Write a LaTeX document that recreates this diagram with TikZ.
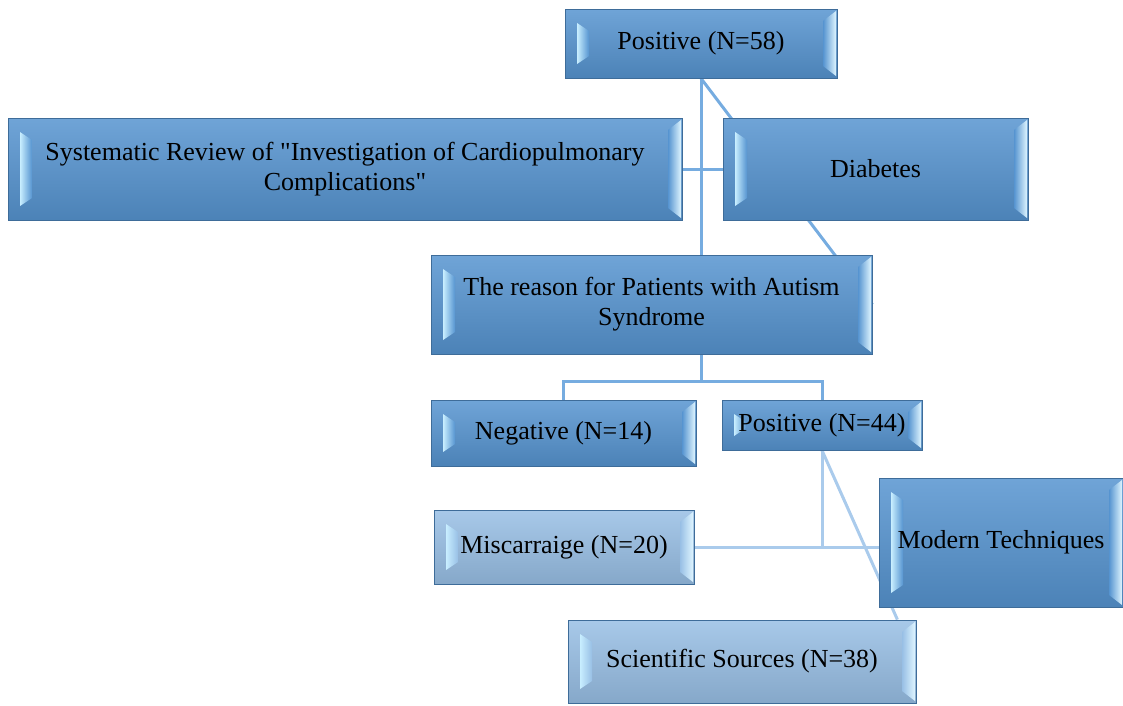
\documentclass[tikz,border=0pt]{standalone}
\usepackage{fontspec}
\setmainfont{Liberation Serif}[Ligatures=TeXOff]
\usetikzlibrary{backgrounds}

\definecolor{boxblue}{RGB}{86,148,208}
\definecolor{boxpale}{RGB}{152,191,229}
\definecolor{boxedge}{RGB}{62,108,153}
\definecolor{bevlight}{RGB}{200,238,255}
\definecolor{linkblue}{RGB}{118,172,224}
\definecolor{linkpale}{RGB}{170,203,236}

\tikzset{
  bevel/.style={path picture={
    \coordinate (bsw) at (path picture bounding box.south west);
    \coordinate (bnw) at (path picture bounding box.north west);
    \coordinate (bne) at (path picture bounding box.north east);
    \coordinate (bse) at (path picture bounding box.south east);
    \shade[left color=bevlight, right color=#1]
      ([xshift=12pt,yshift=14pt]bsw) -- ([xshift=12pt,yshift=-14pt]bnw)
      -- ([xshift=24pt,yshift=-22pt]bnw) -- ([xshift=24pt,yshift=22pt]bsw) -- cycle;
    \shade[left color=#1, right color=bevlight!60!white]
      ([xshift=-14pt,yshift=12pt]bse) -- ([xshift=-14pt,yshift=-12pt]bne)
      -- ([xshift=-1pt,yshift=-2pt]bne) -- ([xshift=-1pt,yshift=2pt]bse) -- cycle;
  }},
  box/.style={draw=boxedge, line width=0.8pt, inner sep=0pt, align=center,
    top color=#1!85!white, bottom color=#1!88!black, bevel=#1},
  link/.style={draw=linkblue, line width=3pt},
  linkpale/.style={draw=linkpale, line width=3pt}
}

\begin{document}
\begin{tikzpicture}[x=1pt,y=-1pt,font=\fontsize{26}{30}\selectfont]
	\useasboundingbox (0,0) rectangle (1123,705);
	\node[box=boxblue, minimum width=272pt, minimum height=69pt] (pos58) at (701,43.5) {Positive (N=58)};
	\node[box=boxblue, minimum width=674pt, minimum height=102pt] (review) at (345,169)
	  {Systematic Review of "Investigation of Cardiopulmonary\\Complications"};
	\node[box=boxblue, minimum width=305pt, minimum height=102pt] (diabetes) at (875.5,169) {Diabetes};
	\node[box=boxblue, minimum width=441pt, minimum height=99pt] (reason) at (651.5,304.5)
	  {The reason for Patients with Autism\\Syndrome};
	\node[box=boxblue, minimum width=265pt, minimum height=66pt] (neg14) at (563.5,433) {Negative (N=14)};
	\node[box=boxblue, minimum width=200pt, minimum height=50pt] (pos44) at (822,425) {Positive (N=44)};
	\node[box=boxpale, minimum width=260pt, minimum height=74pt] (miscar) at (564,547) {Miscarraige (N=20)};
	\node[box=boxblue, minimum width=244pt, minimum height=129pt] (modern) at (1001,542.5) {Modern Techniques};
	\node[box=boxpale, minimum width=348pt, minimum height=83pt] (sources) at (742,661.5) {Scientific Sources (N=38)};
	\coordinate (fork) at (701,381);
	\begin{scope}[on background layer]
	\draw[link] (pos58.south) -- (pos58.south |- reason.north);
	\draw[link] (review.east) -- (diabetes.west);
	\draw[link] (pos58.south) -- (reason.east);
	\draw[link] (pos58.south |- reason.south) -- (fork);
	\draw[link] (neg14.north) |- (fork) -| (pos44.north);
	\draw[linkpale] (miscar.east) -| (pos44.south);
	\draw[linkpale] (miscar.east -| pos44.south) -- (miscar.east -| modern.west);
	\draw[linkpale] (pos44.south) -- ([xshift=-19pt]sources.north east);
	\end{scope}
\end{tikzpicture}
\end{document}
